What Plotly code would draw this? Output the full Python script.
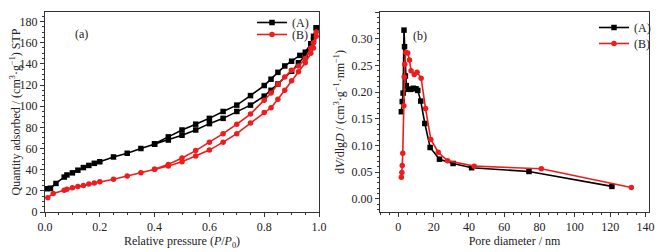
import plotly.graph_objects as go

# ---------------- Panel (a): N2 isotherms ----------------
# (A) adsorption branch then desorption branch
a_ads_x = [0.01, 0.02, 0.04, 0.07, 0.08, 0.10, 0.12, 0.14, 0.16, 0.18, 0.20, 0.25, 0.30, 0.35,
           0.40, 0.45, 0.50, 0.55, 0.60, 0.65, 0.70, 0.75, 0.80, 0.825, 0.85, 0.90, 0.925,
           0.95, 0.97, 0.98, 0.99]
a_ads_y = [22.0, 22.5, 27.0, 33.0, 35.0, 37.0, 39.5, 42.0, 44.0, 46.0, 47.5, 52.0, 55.5, 60.0,
           64.0, 68.0, 72.5, 77.5, 83.5, 88.5, 95.0, 101.0, 109.5, 115.0, 121.0, 133.0, 141.0,
           148.0, 156.0, 162.0, 174.0]
a_des_x = [0.99, 0.98, 0.97, 0.95, 0.93, 0.90, 0.875, 0.85, 0.825, 0.80, 0.75, 0.70, 0.65,
           0.60, 0.55, 0.50, 0.45, 0.40]
a_des_y = [174.0, 166.0, 159.0, 151.0, 148.0, 142.5, 138.0, 132.0, 125.5, 119.5, 110.0, 101.0,
           95.0, 88.5, 83.0, 77.5, 71.0, 64.5]

# (B)
b_ads_x = [0.01, 0.03, 0.07, 0.08, 0.10, 0.12, 0.14, 0.16, 0.18, 0.20, 0.25, 0.30, 0.35, 0.40,
           0.45, 0.50, 0.55, 0.60, 0.65, 0.70, 0.75, 0.80, 0.825, 0.85, 0.875, 0.90, 0.925,
           0.95, 0.97, 0.98, 0.99]
b_ads_y = [13.5, 17.5, 20.5, 21.5, 23.0, 24.0, 25.0, 26.5, 27.5, 28.5, 31.0, 34.0, 37.0, 40.5,
           43.5, 47.5, 53.0, 58.5, 66.0, 74.0, 84.0, 94.0, 98.5, 106.5, 115.0, 124.0, 132.5,
           141.0, 150.0, 155.0, 166.0]
b_des_x = [0.99, 0.98, 0.97, 0.95, 0.925, 0.90, 0.875, 0.85, 0.825, 0.80, 0.75, 0.70, 0.65,
           0.60, 0.55, 0.50, 0.45, 0.40]
b_des_y = [170.0, 160.0, 155.0, 145.0, 138.0, 134.0, 127.5, 121.0, 112.5, 105.5, 92.5, 83.0,
           74.0, 66.0, 58.0, 51.0, 45.0, 40.5]

# ---------------- Panel (b): pore size distribution ----------------
psd_a_x = [1.7, 2.2, 2.7, 3.2, 3.5, 4.0, 4.5, 5.5, 7.0, 8.5, 10.0, 11.0, 12.7, 15.0, 18.0,
           23.3, 31.0, 41.5, 74.0, 121.0]
psd_a_y = [0.163, 0.182, 0.198, 0.316, 0.285, 0.230, 0.212, 0.205, 0.205, 0.207, 0.206, 0.203,
           0.183, 0.141, 0.096, 0.074, 0.066, 0.058, 0.051, 0.023]
psd_b_x = [1.7, 2.0, 2.2, 2.5, 3.1, 3.3, 3.6, 4.2, 5.3, 6.3, 7.2, 9.0, 10.6, 12.9, 15.4, 18.4,
           22.6, 27.9, 43.0, 81.0, 132.0]
psd_b_y = [0.040, 0.049, 0.062, 0.085, 0.174, 0.228, 0.252, 0.274, 0.273, 0.260, 0.240, 0.233,
           0.237, 0.226, 0.169, 0.111, 0.087, 0.071, 0.061, 0.056, 0.021]

labels = ["(A)", "(B)"]
colors = ["#000000", "#ee1c1c"]
FONT = "Liberation Serif"

# The page body has an 8 px default margin; lay out in screen pixels.
OFF = 8
W, H = 664 - OFF, 252 - OFF


def px(X):
    return (X - OFF) / W


def py(Y):
    return 1 - (Y - OFF) / H


fig = go.Figure()

fig.add_trace(go.Scatter(x=a_ads_x + a_des_x, y=a_ads_y + a_des_y, name=labels[0],
                         mode="lines+markers", line=dict(color=colors[0], width=1.6),
                         marker=dict(symbol="square", size=5.5, color=colors[0]),
                         xaxis="x", yaxis="y", legend="legend"))
fig.add_trace(go.Scatter(x=b_ads_x + b_des_x, y=b_ads_y + b_des_y, name=labels[1],
                         mode="lines+markers", line=dict(color=colors[1], width=1.6),
                         marker=dict(symbol="circle", size=5.5, color=colors[1]),
                         xaxis="x", yaxis="y", legend="legend2"))
fig.add_trace(go.Scatter(x=psd_a_x, y=psd_a_y, name=labels[0],
                         mode="lines+markers", line=dict(color=colors[0], width=1.6),
                         marker=dict(symbol="square", size=5.5, color=colors[0]),
                         xaxis="x2", yaxis="y2", legend="legend3"))
fig.add_trace(go.Scatter(x=psd_b_x, y=psd_b_y, name=labels[1],
                         mode="lines+markers", line=dict(color=colors[1], width=1.6),
                         marker=dict(symbol="circle", size=5.5, color=colors[1]),
                         xaxis="x2", yaxis="y2", legend="legend4"))

axis_common = dict(showline=True, linecolor="#333", linewidth=1, mirror=True,
                   ticks="outside", ticklen=4, tickwidth=1, tickcolor="#333",
                   showgrid=False, zeroline=False, automargin=False,
                   tickfont=dict(family=FONT, size=12, color="#222"),
                   minor=dict(ticks="outside", ticklen=2, tickcolor="#333"))


def leg(X, Yc):
    return dict(x=px(X), y=min(1.0, py(Yc - 15)), xanchor="left", yanchor="top",
                bgcolor="rgba(0,0,0,0)", font=dict(family=FONT, size=12),
                tracegroupgap=0, itemwidth=30, visible=True)


ydom = [py(212), py(12)]
fig.update_layout(
    width=W, height=H,
    margin=dict(l=0, r=0, t=0, b=0),
    paper_bgcolor="white", plot_bgcolor="white",
    font=dict(family=FONT, size=12, color="#222"),
    showlegend=True,
    xaxis=dict(domain=[px(45), px(319)], range=[0, 1], dtick=0.2, tickformat=".1f",
               title=dict(text="Relative pressure (<i>P</i>/<i>P</i><sub>0</sub>)",
                          font=dict(family=FONT, size=12), standoff=2),
               anchor="y", **axis_common),
    yaxis=dict(domain=ydom, range=[0, 189], dtick=20,
               title=dict(text="Quantity adsorbed / (cm<sup>3</sup>·g<sup>−1</sup>) STP",
                          font=dict(family=FONT, size=12), standoff=4),
               anchor="x", **axis_common),
    xaxis2=dict(domain=[px(380), px(649)], range=[-10.4, 142], tick0=0, dtick=20,
                title=dict(text="Pore diameter / nm", font=dict(family=FONT, size=12), standoff=2),
                anchor="y2", **axis_common),
    yaxis2=dict(domain=ydom, range=[-0.025, 0.35], dtick=0.05, tickformat=".2f",
                title=dict(text="d<i>V</i>/dlg<i>D</i> / (cm<sup>3</sup>·g<sup>−1</sup>·nm<sup>−1</sup>)",
                           font=dict(family=FONT, size=12), standoff=4),
                anchor="x2", **axis_common),
    legend=leg(252, 21),
    legend2=leg(252, 35),
    legend3=leg(594, 28),
    legend4=leg(594, 44),
    annotations=[
        dict(text="(a)", x=px(73), y=py(25), xref="paper", yref="paper",
             showarrow=False, font=dict(family=FONT, size=12)),
        dict(text="(b)", x=px(420), y=py(27), xref="paper", yref="paper",
             showarrow=False, font=dict(family=FONT, size=12)),
    ],
)

fig.write_html("out.html")
